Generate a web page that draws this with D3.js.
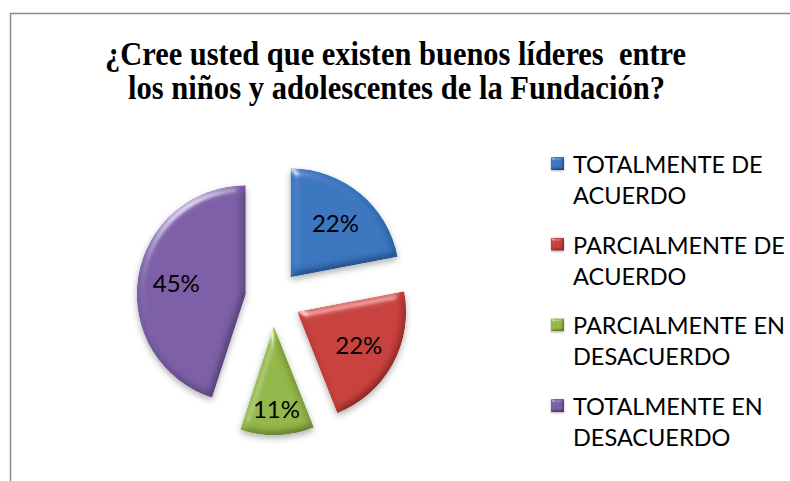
<!DOCTYPE html>
<html>
<head>
<meta charset="utf-8">
<script src="https://cdn.jsdelivr.net/npm/d3@7"></script>
<style>
  html, body { margin: 0; padding: 0; background: #fff; }
  svg { display: block; }
  text { white-space: pre; }
</style>
</head>
<body>
<svg id="chart" width="790" height="481"></svg>
<script>
// Survey answers and their shares (percent)
const categories = [
  "TOTALMENTE DE ACUERDO",
  "PARCIALMENTE DE ACUERDO",
  "PARCIALMENTE EN DESACUERDO",
  "TOTALMENTE EN DESACUERDO"
];
const legendLines = [
  ["TOTALMENTE DE", "ACUERDO"],
  ["PARCIALMENTE DE", "ACUERDO"],
  ["PARCIALMENTE EN", "DESACUERDO"],
  ["TOTALMENTE EN", "DESACUERDO"]
];
const values = [22, 22, 11, 45];
const colors = ["#3a76c0", "#c8403d", "#93b748", "#7c5ea6"];
const titleLines = [
  "¿Cree usted que existen buenos líderes  entre",
  "los niños y adolescentes de la Fundación?"
];

const svg = d3.select("#chart");
const defs = svg.append("defs");

// Soft bevel + drop shadow for the slices
function bevelFilter(id, blur, scale, shadowBlur, shadowDy) {
  const f = defs.append("filter").attr("id", id)
    .attr("x", "-20%").attr("y", "-20%").attr("width", "140%").attr("height", "140%");
  f.append("feGaussianBlur").attr("in", "SourceAlpha").attr("stdDeviation", blur).attr("result", "blur");
  const diff = f.append("feDiffuseLighting").attr("in", "blur").attr("surfaceScale", scale)
    .attr("diffuseConstant", 1.155).attr("lighting-color", "#ffffff").attr("result", "diff");
  diff.append("feDistantLight").attr("azimuth", 235).attr("elevation", 60);
  f.append("feComposite").attr("in", "SourceGraphic").attr("in2", "diff")
    .attr("operator", "arithmetic").attr("k1", 1).attr("k2", 0).attr("k3", 0).attr("k4", 0).attr("result", "shaded");
  const spec = f.append("feSpecularLighting").attr("in", "blur").attr("surfaceScale", scale)
    .attr("specularConstant", 0.5).attr("specularExponent", 40).attr("lighting-color", "#ffffff").attr("result", "spec");
  spec.append("feDistantLight").attr("azimuth", 235).attr("elevation", 35);
  f.append("feComposite").attr("in", "spec").attr("in2", "SourceAlpha").attr("operator", "in").attr("result", "specIn");
  f.append("feComposite").attr("in", "shaded").attr("in2", "specIn")
    .attr("operator", "arithmetic").attr("k1", 0).attr("k2", 1).attr("k3", 1).attr("k4", 0).attr("result", "lit");
  f.append("feComposite").attr("in", "lit").attr("in2", "SourceAlpha").attr("operator", "in").attr("result", "litIn");
  f.append("feGaussianBlur").attr("in", "SourceAlpha").attr("stdDeviation", shadowBlur).attr("result", "sb");
  f.append("feOffset").attr("in", "sb").attr("dx", 0).attr("dy", shadowDy).attr("result", "so");
  f.append("feFlood").attr("flood-color", "#000").attr("flood-opacity", 0.3).attr("result", "fl");
  f.append("feComposite").attr("in", "fl").attr("in2", "so").attr("operator", "in").attr("result", "shadow");
  const m = f.append("feMerge");
  m.append("feMergeNode").attr("in", "shadow");
  m.append("feMergeNode").attr("in", "litIn");
}
bevelFilter("bevel", 4, 4, 3, 3);
bevelFilter("bevelSmall", 1.5, 2, 0.8, 1);

// Chart frame
svg.append("rect")
  .attr("x", 10.5).attr("y", 13.5).attr("width", 800).attr("height", 500)
  .attr("fill", "none").attr("stroke", "#8c8c8c").attr("stroke-width", 1.5);

// Title
const title = svg.append("g")
  .attr("font-family", "'Liberation Serif', 'Times New Roman', serif")
  .attr("font-weight", "bold").attr("font-size", 34).attr("fill", "#000");
const titleSpans = [[105, 65, 581], [128, 99, 537]];
titleLines.forEach((t, i) => {
  title.append("text")
    .attr("x", titleSpans[i][0]).attr("y", titleSpans[i][1])
    .attr("textLength", titleSpans[i][2]).attr("lengthAdjust", "spacingAndGlyphs")
    .text(t);
});

// Exploded pie
const cx = 273, cy = 298.5, radius = 109, explode = 27.6;
const pie = d3.pie().sort(null).value(d => d).startAngle(0).endAngle(2 * Math.PI);
const arcs = pie(values);
const arc = d3.arc().innerRadius(0).outerRadius(radius);

const pieG = svg.append("g").attr("transform", `translate(${cx},${cy})`);
const slices = pieG.selectAll("g.slice").data(arcs).enter().append("g")
  .attr("class", "slice")
  .attr("transform", d => {
    const mid = (d.startAngle + d.endAngle) / 2;
    return `translate(${Math.sin(mid) * explode},${-Math.cos(mid) * explode})`;
  });

slices.append("path")
  .attr("d", arc)
  .attr("fill", (d, i) => colors[i])
  .attr("filter", "url(#bevel)");

slices.append("text")
  .attr("transform", d => {
    const span = d.endAngle - d.startAngle;
    const lr = radius * (span < 1 ? 0.76 : 0.645);
    const c = d3.arc().innerRadius(lr).outerRadius(lr).centroid(d);
    return `translate(${c[0]},${c[1]})`;
  })
  .attr("text-anchor", "middle").attr("dy", "0.36em")
  .attr("font-family", "Lato, 'Open Sans', sans-serif").attr("font-size", 24)
  .attr("fill", "#000")
  .text(d => d3.format(".0%")(d.data / 100));

// Legend
const legend = svg.append("g")
  .attr("font-family", "Lato, 'Open Sans', sans-serif").attr("font-size", 23.5).attr("fill", "#000");
const legY = d3.scalePoint().domain(d3.range(categories.length)).range([173, 415]);
categories.forEach((c, i) => {
  const g = legend.append("g").attr("transform", `translate(0,${legY(i)})`);
  g.append("rect").attr("x", 551).attr("y", -16).attr("width", 13).attr("height", 13)
    .attr("fill", colors[i]).attr("filter", "url(#bevelSmall)");
  legendLines[i].forEach((ln, j) => {
    g.append("text").attr("x", 573).attr("y", j * 31).text(ln);
  });
});
</script>
</body>
</html>
